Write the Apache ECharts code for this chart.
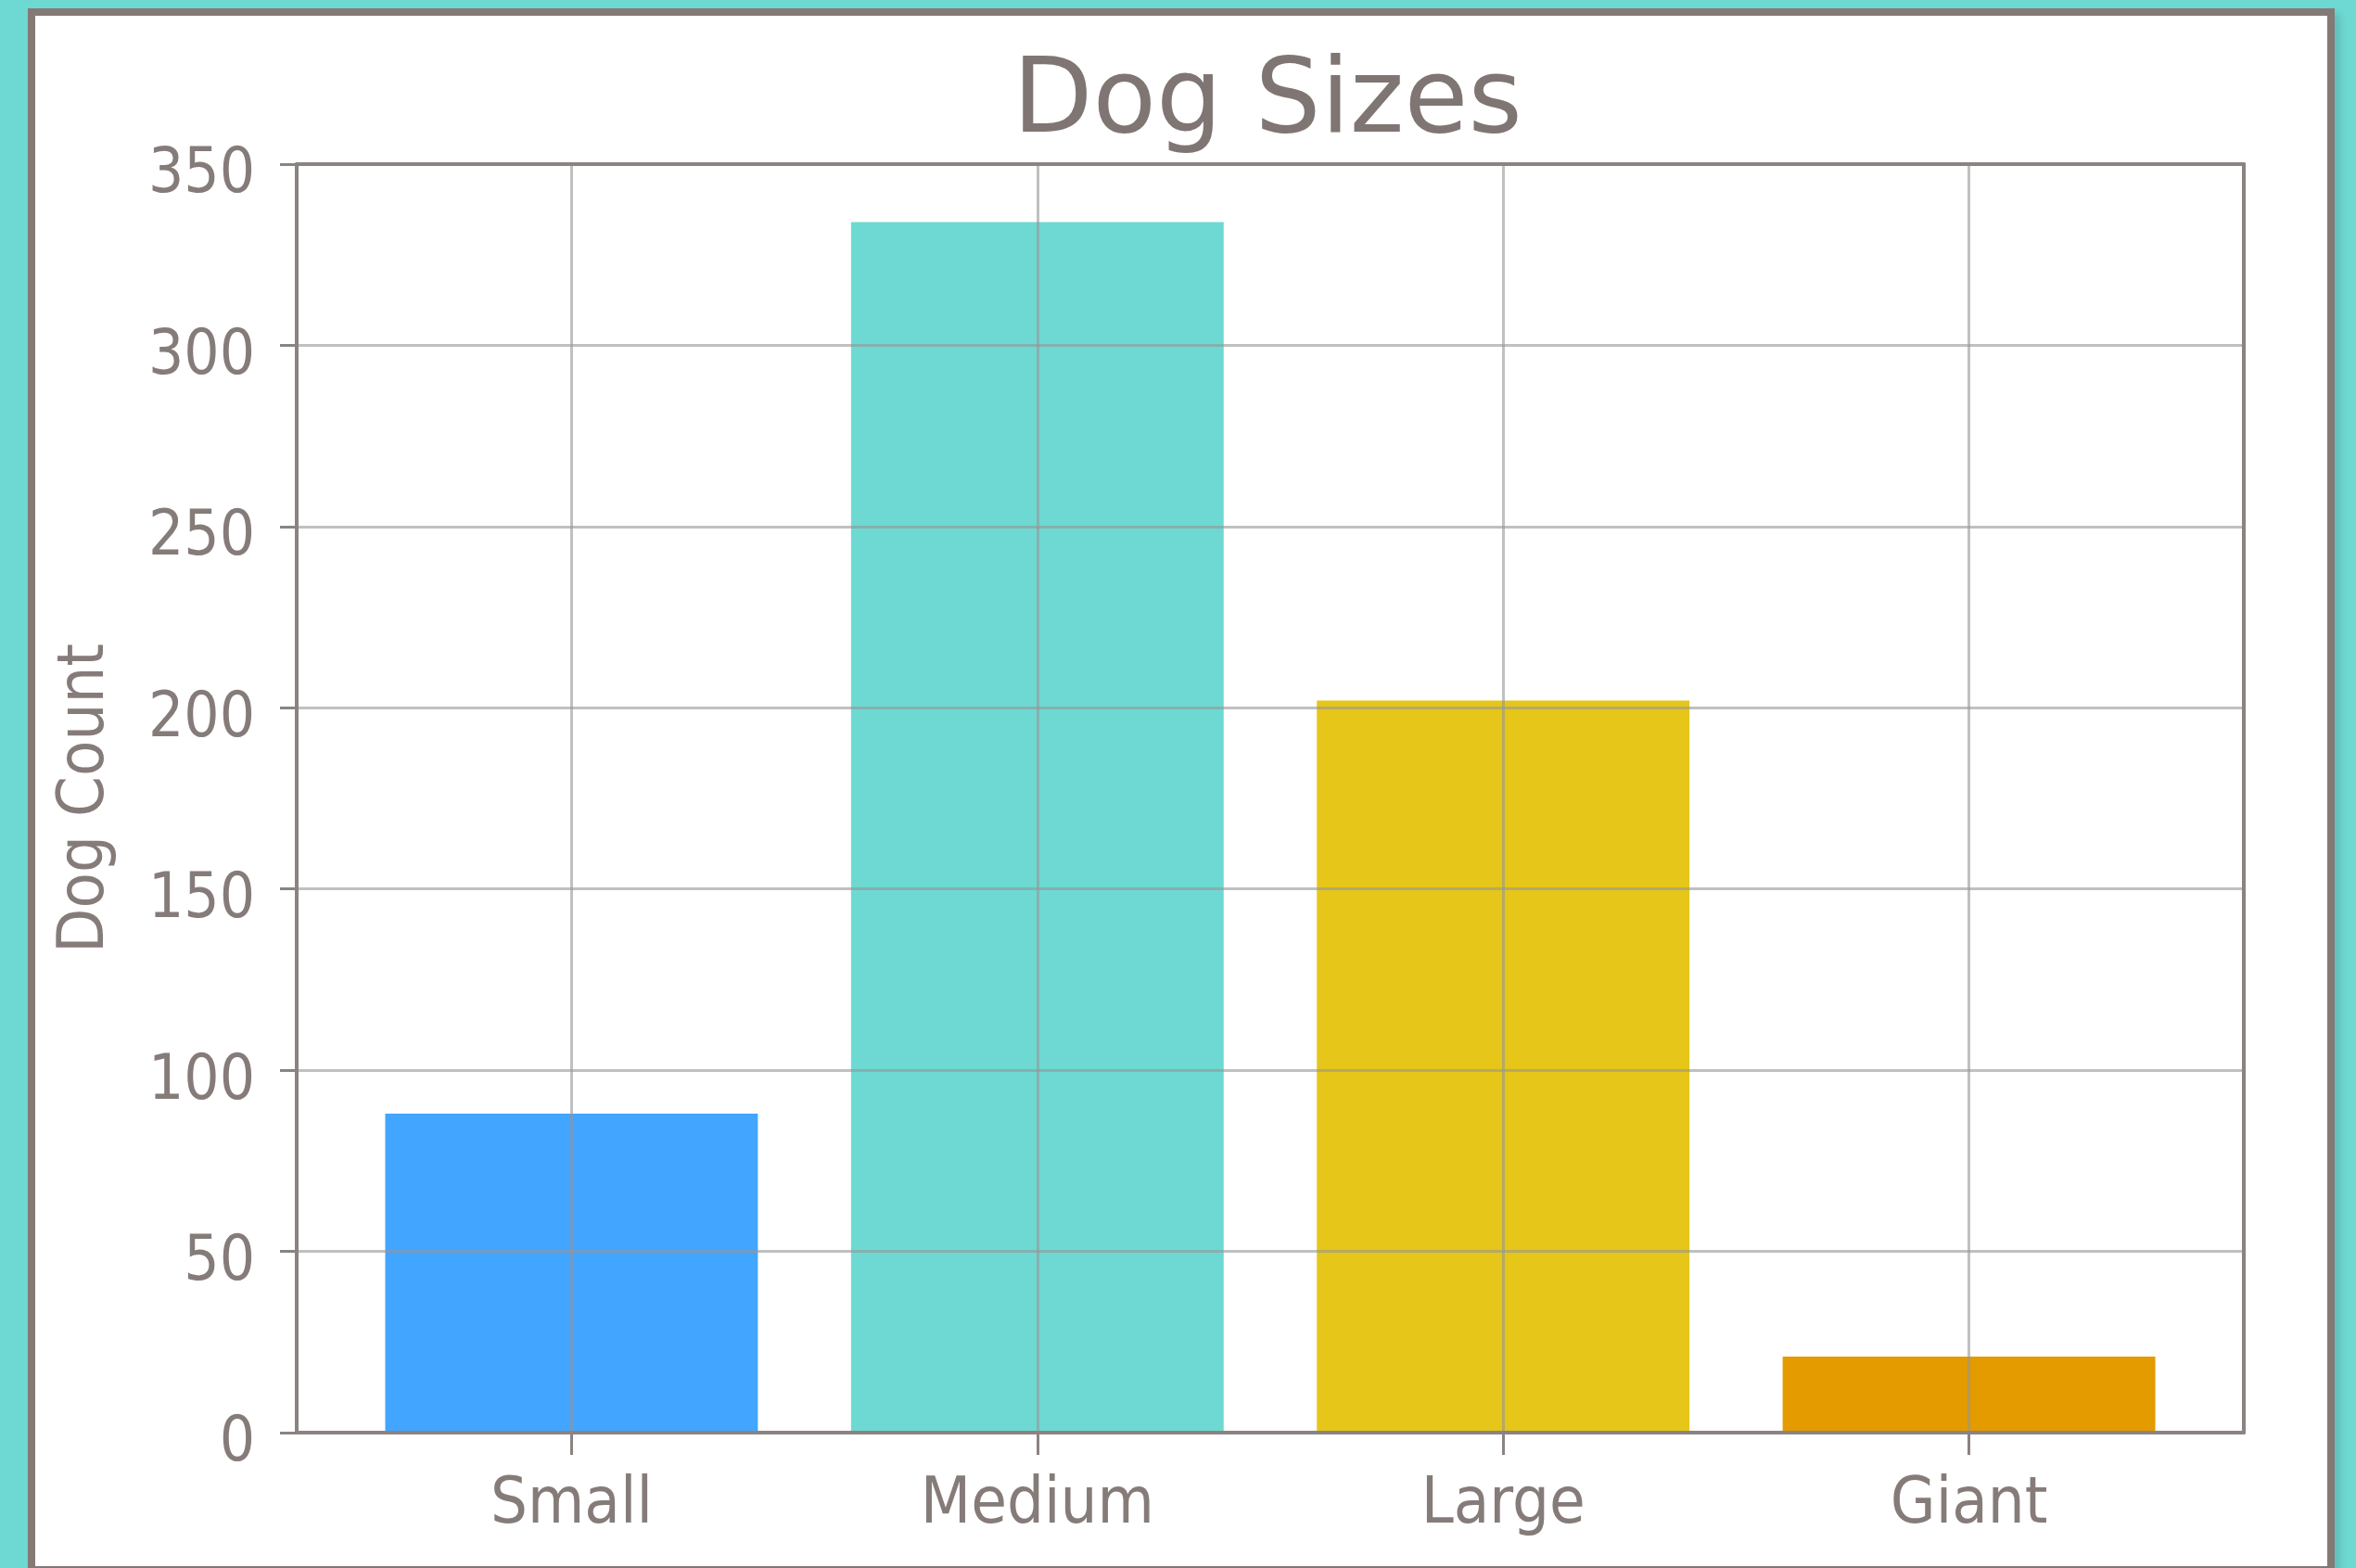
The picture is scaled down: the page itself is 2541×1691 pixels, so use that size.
<!DOCTYPE html>
<html>
<head>
<meta charset="utf-8">
<script src="https://cdn.jsdelivr.net/npm/echarts@6/dist/echarts.min.js"></script>
<style>
  html, body { margin: 0; padding: 0; width: 2541px; height: 1691px; overflow: hidden; background: #6dd9d2; }
  #panel { position: absolute; left: 30px; top: 9px; width: 2472px; height: 1672px; background: #ffffff; border: 8px solid #837975; box-shadow: 6px 6px 8px rgba(0,0,0,0.12); }
  #chart { position: absolute; left: 0; top: 0; width: 2541px; height: 1691px; }
</style>
</head>
<body>
<div id="panel"></div>
<div id="chart"></div>
<script>
const categories = ['Small', 'Medium', 'Large', 'Giant'];
const dogCounts = [88, 334, 202, 21];
const barColors = ['#42a5ff', '#6dd9d2', '#e5c619', '#e39b00'];
const yTicks = { min: 0, max: 350, interval: 50 };
const titleText = 'Dog Sizes';
const yAxisName = 'Dog Count';

const textColor = '#857c79';
const spineColor = '#8a8381';
const gridColor = 'rgba(150,150,150,0.6)';
const labelFont = '"DejaVu Sans Condensed", "DejaVu Sans", sans-serif';

const chart = echarts.init(document.getElementById('chart'), null, { renderer: 'canvas' });

const plotLeft = 320, plotRight = 2420, plotTop = 177, plotBottom = 1545;
const plotW = plotRight - plotLeft;
// matplotlib-like x limits: -0.59 .. 3.59
const xMin = -0.59, xMax = categories.length - 1 + 0.59;
const unit = plotW / (xMax - xMin);
const catLeft = plotLeft + (0 - xMin) * unit;
const catWidth = (categories.length - 1) * unit;

const spineLine = { show: true, onZero: false, lineStyle: { color: spineColor, width: 4 } };

chart.setOption({
  animation: false,
  title: {
    text: titleText,
    left: (plotLeft + plotRight) / 2 - 8,
    textAlign: 'center',
    top: 52,
    textStyle: { fontFamily: '"DejaVu Sans", sans-serif', fontWeight: 'normal', fontSize: 112, color: '#7f7673' }
  },
  grid: [
    { left: plotLeft, top: plotTop, width: plotW, height: plotBottom - plotTop, containLabel: false },
    { left: catLeft, top: plotTop, width: catWidth, height: plotBottom - plotTop, containLabel: false }
  ],
  xAxis: [
    { gridIndex: 0, type: 'value', min: 0, max: 1, position: 'bottom', z: 5,
      axisLine: spineLine, axisTick: { show: false }, axisLabel: { show: false }, splitLine: { show: false } },
    { gridIndex: 0, type: 'value', min: 0, max: 1, position: 'top', z: 5,
      axisLine: spineLine, axisTick: { show: false }, axisLabel: { show: false }, splitLine: { show: false } },
    { gridIndex: 1, type: 'category', data: categories, boundaryGap: false, position: 'bottom', z: 4,
      axisLine: { show: false },
      axisTick: { show: true, inside: false, length: 24, lineStyle: { color: spineColor, width: 3 } },
      axisLabel: { show: true, margin: 44, fontSize: 70, fontFamily: labelFont, color: textColor },
      splitLine: { show: true, lineStyle: { color: gridColor, width: 3 } } }
  ],
  yAxis: [
    { gridIndex: 0, type: 'value', min: yTicks.min, max: yTicks.max, interval: yTicks.interval, position: 'left', z: 4,
      name: yAxisName, nameLocation: 'middle', nameGap: 192,
      nameTextStyle: { fontSize: 70, fontFamily: labelFont, color: textColor },
      axisLine: spineLine,
      axisTick: { show: true, inside: false, length: 18, lineStyle: { color: spineColor, width: 3 } },
      axisLabel: {
        show: true, margin: 45,
        formatter: '{v|{value}}',
        rich: { v: { fontSize: 67, fontFamily: labelFont, color: textColor, padding: [26, 0, 0, 0] } }
      },
      splitLine: { show: true, lineStyle: { color: gridColor, width: 3 } } },
    { gridIndex: 0, type: 'value', min: yTicks.min, max: yTicks.max, position: 'right', z: 5,
      axisLine: spineLine, axisTick: { show: false }, axisLabel: { show: false }, splitLine: { show: false } },
    { gridIndex: 1, type: 'value', min: yTicks.min, max: yTicks.max, show: false }
  ],
  series: [{
    type: 'bar',
    xAxisIndex: 2,
    yAxisIndex: 2,
    barWidth: '80%',
    clip: false,
    z: 2,
    data: dogCounts.map((v, i) => ({ value: v, itemStyle: { color: barColors[i] } }))
  }]
});
</script>
</body>
</html>
